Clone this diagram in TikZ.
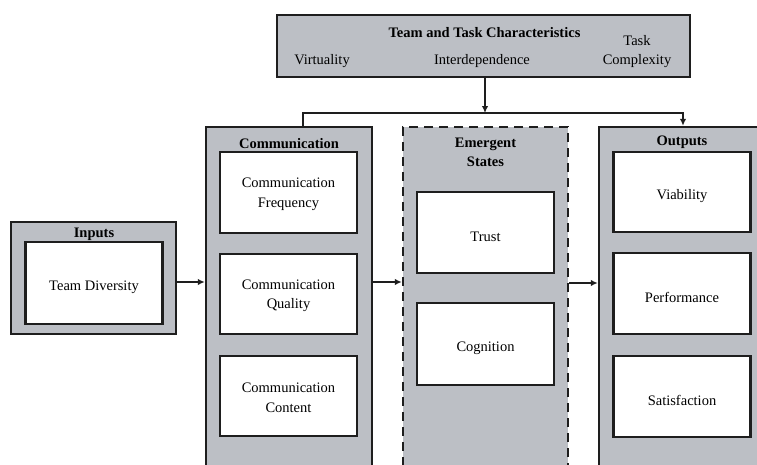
\documentclass[tikz,border=0pt]{standalone}
\usepackage{fontspec}
\setmainfont{Liberation Serif}
\usetikzlibrary{arrows.meta,calc}
\definecolor{panelgrey}{RGB}{188,191,197}
\definecolor{edge}{RGB}{30,30,30}
\newcommand{\onel}[1]{\raisebox{-4pt}[\height][\depth]{#1}}
\newcommand{\lowr}[1]{\raisebox{-2pt}[\height][\depth]{#1}}
\tikzset{
  lbl/.style={font=\fontsize{14.5}{19.5}\selectfont, align=center, inner sep=0pt},
  ttl/.style={font=\bfseries\fontsize{14.5}{19.5}\selectfont, align=center, inner sep=0pt},
  panel/.style={draw=edge, line width=2.4pt, fill=panelgrey, inner sep=0pt},
  dpanel/.style={draw=edge, line width=2.4pt, fill=panelgrey, inner sep=0pt, dash pattern=on 9pt off 6pt},
  itembox/.style={draw=edge, line width=2.4pt, fill=white, minimum width=137pt, inner sep=0pt,
    font=\fontsize{14.5}{19.5}\selectfont, align=center},
  conn/.style={draw=edge, line width=1.4pt},
  arr/.style={conn, -{Latex[length=7pt,width=6.5pt]}},
}
\begin{document}
\begin{tikzpicture}[x=1pt,y=-1pt]
\useasboundingbox (0,0) rectangle (757,464);
\clip (0,0) rectangle (757,464);
% top box
\node[panel, minimum width=413pt, minimum height=62pt] (top) at (483.5,46) {};
\node[ttl] (toptitle) at (484.5,33) {Team and Task Characteristics};
\node[lbl] (virt) at (322,61.5) {Virtuality};
\node[lbl] (inter) at (482,61.5) {Interdependence};
\node[lbl] (taskc) at (637,51.5) {Task\\Complexity};
% inputs
\node[panel, minimum width=165pt, minimum height=112pt] (inputs) at (93.5,278) {};
\node[ttl] (inputsT) at (94,234) {Inputs};
\node[itembox, minimum height=82pt] (div) at (94,283) {\onel{Team Diversity}};
% communication
\node[panel, minimum width=166pt, minimum height=360pt] (comm) at (289,307) {};
\node[ttl] (commT) at (289,143.5) {Communication};
\node[itembox, minimum height=81pt] (freq) at (288.5,192.5) {\lowr{Communication}\\\lowr{Frequency}};
\node[itembox, minimum height=80pt] (qual) at (288.5,294) {\lowr{Communication}\\\lowr{Quality}};
\node[itembox, minimum height=80pt] (cont) at (288.5,396) {\lowr{Communication}\\\lowr{Content}};
% emergent states
\node[dpanel, minimum width=165pt, minimum height=360pt] (emer) at (485.5,307) {};
\node[ttl] (emerT) at (485.5,152.5) {Emergent\\States};
\node[itembox, minimum height=81pt] (trust) at (485.5,232.5) {\onel{Trust}};
\node[itembox, minimum height=82pt] (cogn) at (485.5,344) {\onel{Cognition}};
% outputs
\node[panel, minimum width=180pt, minimum height=360pt] (outp) at (689,307) {};
\node[ttl] (outT) at (682,142) {Outputs};
\node[itembox, minimum height=80pt] (viab) at (682,192) {\onel{Viability}};
\node[itembox, minimum height=81pt] (perf) at (682,293.5) {\onel{Performance}};
\node[itembox, minimum height=81pt] (sat) at (682,396.5) {\onel{Satisfaction}};
% connectors
\coordinate (busL) at (303,113);
\coordinate (busR) at (683,113);
\coordinate (busM) at (485,113);
\draw[arr] (top.south -| busM) -- (busM);
\draw[arr] (comm.north -| busL) -- (busL) -- (busR) -- (outp.north -| busR);
\draw[arr] (inputs.east |- 0,282) -- (comm.west |- 0,282);
\draw[arr] (comm.east |- 0,282) -- (emer.west |- 0,282);
\draw[arr] (emer.east |- 0,283) -- (outp.west |- 0,283);
\end{tikzpicture}
\end{document}
